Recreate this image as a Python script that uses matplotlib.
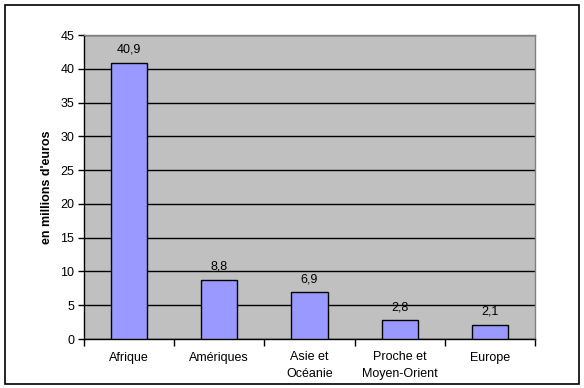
import matplotlib
matplotlib.use("Agg")
import matplotlib.pyplot as plt
from matplotlib.patches import Rectangle

categories = ["Afrique", "Amériques", "Asie et\nOcéanie", "Proche et\nMoyen-Orient", "Europe"]
values = [40.9, 8.8, 6.9, 2.8, 2.1]
value_labels = ["40,9", "8,8", "6,9", "2,8", "2,1"]
y_ticks = [0, 5, 10, 15, 20, 25, 30, 35, 40, 45]

plt.rcParams["font.family"] = ["Liberation Sans", "DejaVu Sans"]

W, H = 584, 388
fig = plt.figure(figsize=(W / 100, H / 100), dpi=100)
fig.patch.set_facecolor("white")

# outer frame around the whole chart
fig.add_artist(Rectangle((5 / W, 1 - 384 / H), 574 / W, 379 / H,
                         transform=fig.transFigure, fill=False,
                         edgecolor="black", linewidth=1.2))

left, right, top, bottom = 84, 535, 35, 339
ax = fig.add_axes([left / W, 1 - bottom / H, (right - left) / W, (bottom - top) / H])
ax.set_facecolor("#C0C0C0")

x = range(len(categories))
ax.bar(x, values, width=0.4, color="#9999FF", edgecolor="black", linewidth=1.0, zorder=3)

for xi, v, lab in zip(x, values, value_labels):
    ax.annotate(lab, (xi, v), xytext=(0, 5), textcoords="offset points",
                ha="center", va="bottom", fontsize=9, color="black")

ax.set_xlim(-0.5, len(categories) - 0.5)
ax.set_ylim(0, 45)
ax.set_yticks(y_ticks)
ax.set_yticklabels([str(t) for t in y_ticks], fontsize=9)
ax.yaxis.grid(True, color="black", linewidth=1.0, zorder=0)
ax.set_axisbelow(True)

# category ticks sit between the bars
ax.set_xticks([i + 0.5 for i in range(-1, len(categories))], minor=False)
ax.set_xticklabels([])
ax.set_xticks(list(x), minor=True)
ax.set_xticklabels(categories, minor=True, fontsize=9, linespacing=1.45)
ax.tick_params(axis="x", which="minor", length=0, pad=9)
ax.tick_params(axis="x", which="major", length=5, width=1, color="black", direction="out")
ax.tick_params(axis="y", length=4, width=1, direction="out", pad=3)

for s in ["top", "right"]:
    ax.spines[s].set_color("#808080")
    ax.spines[s].set_linewidth(1.0)
for s in ["left", "bottom"]:
    ax.spines[s].set_color("black")
    ax.spines[s].set_linewidth(1.0)

ax.set_ylabel("en millions d'euros", fontsize=9, fontweight="bold", labelpad=5)

fig.savefig("out.png", dpi=100, facecolor="white")
